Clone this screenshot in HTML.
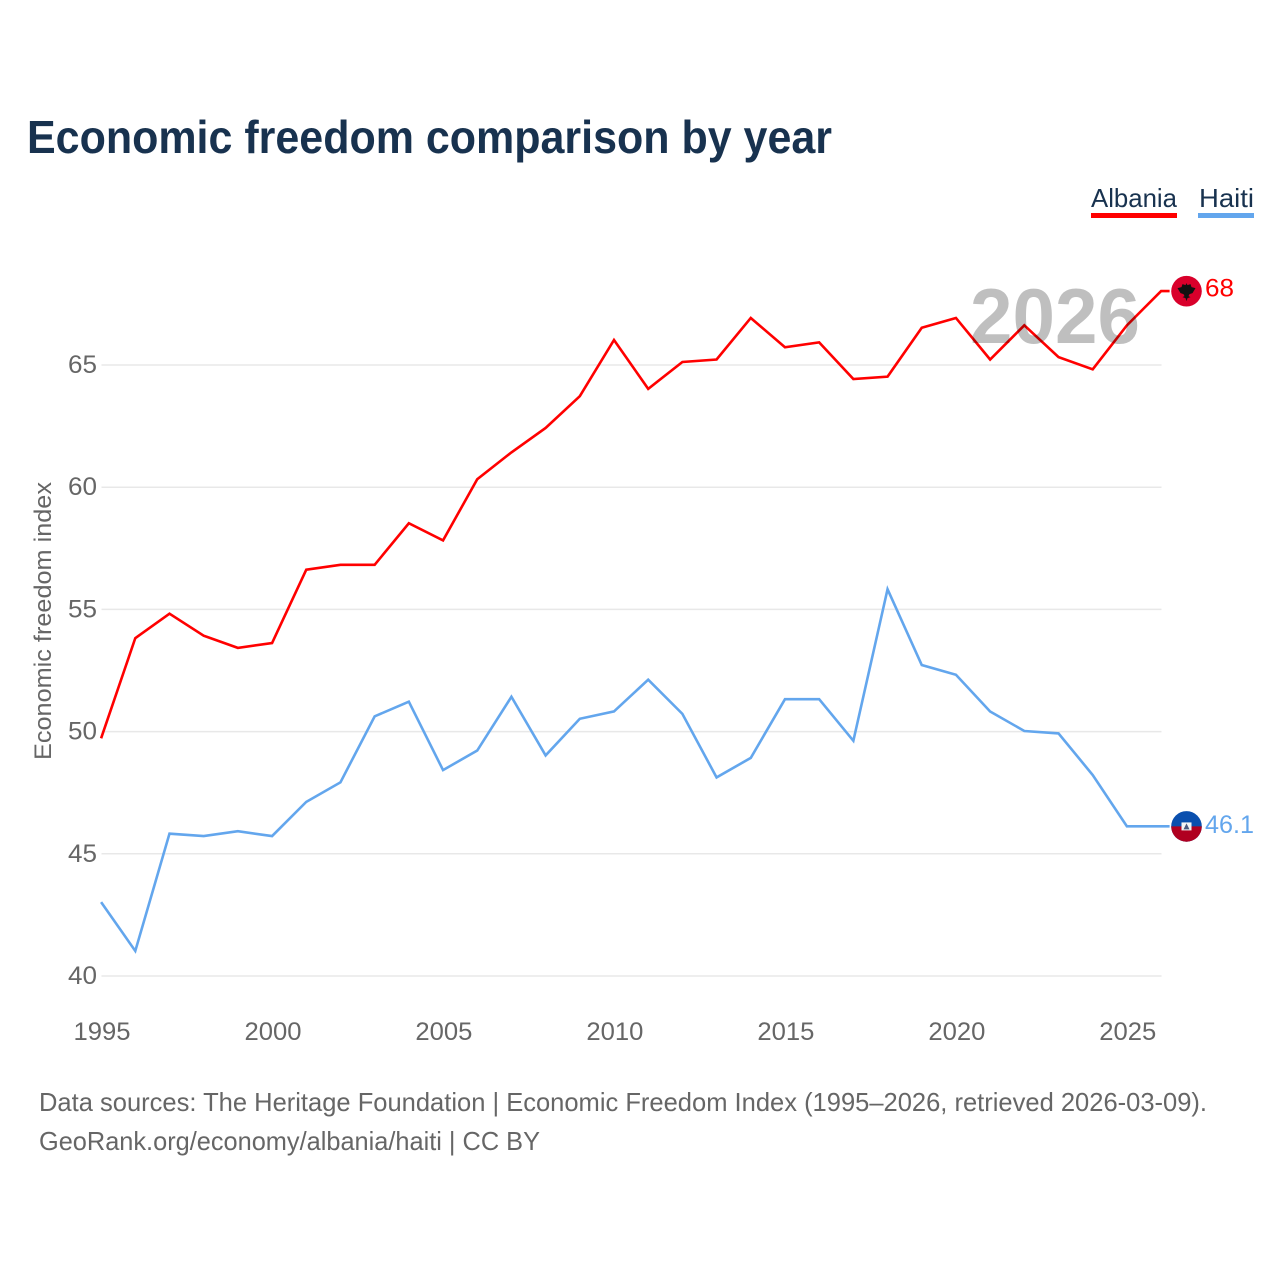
<!DOCTYPE html>
<html lang="en">
<head>
<meta charset="utf-8">
<title>Economic freedom comparison by year</title>
<style>
html,body{margin:0;padding:0;background:#fff;}
svg{display:block;}
text{font-family:"Liberation Sans",sans-serif;}
</style>
</head>
<body>
<svg id="chart" xmlns="http://www.w3.org/2000/svg" width="1280" height="1280" viewBox="0 0 1280 1280">
  <rect x="0" y="0" width="1280" height="1280" fill="#fff"/>
  <text x="27" y="153" font-size="46" font-weight="700" fill="#18324f" textLength="805" lengthAdjust="spacingAndGlyphs">Economic freedom comparison by year</text>

  <g>
    <g>
      <text x="1091" y="207" font-size="26" fill="#18324f" textLength="86" lengthAdjust="spacingAndGlyphs">Albania</text>
      <rect x="1091" y="213" width="86" height="5" fill="#ff0000"/>
    </g>
    <g>
      <text x="1199" y="207" font-size="26" fill="#18324f" textLength="55" lengthAdjust="spacingAndGlyphs">Haiti</text>
      <rect x="1198" y="213" width="56" height="5" fill="#63a6ed"/>
    </g>
  </g>

  <g id="grid"></g>
  <g id="yticks"></g>
  <g id="xticks"></g>
  <text transform="translate(51,621) rotate(-90)" text-anchor="middle" font-size="24" fill="#666666" textLength="278" lengthAdjust="spacingAndGlyphs">Economic freedom index</text>

  <g id="series" transform="translate(-0.4,-0.6)"></g>

  <text x="1055" y="343" text-anchor="middle" font-size="78" font-weight="400" fill="#000000" fill-opacity="0.25" stroke="#000000" stroke-opacity="0" textLength="170" lengthAdjust="spacingAndGlyphs" style="font-weight:700">2026</text>

  <g id="ends"></g>

  <g>
    <text x="39" y="1111" font-size="26" fill="#666666" textLength="1168" lengthAdjust="spacingAndGlyphs">Data sources: The Heritage Foundation | Economic Freedom Index (1995–2026, retrieved 2026-03-09).</text>
    <text x="39" y="1150" font-size="26" fill="#666666" textLength="501" lengthAdjust="spacingAndGlyphs">GeoRank.org/economy/albania/haiti | CC BY</text>
  </g>
</svg>
<script>
const years = [1995,1996,1997,1998,1999,2000,2001,2002,2003,2004,2005,2006,2007,2008,2009,2010,2011,2012,2013,2014,2015,2016,2017,2018,2019,2020,2021,2022,2023,2024,2025,2026];
const albaniaValues = [49.7,53.8,54.8,53.9,53.4,53.6,56.6,56.8,56.8,58.5,57.8,60.3,61.4,62.4,63.7,66.0,64.0,65.1,65.2,66.9,65.7,65.9,64.4,64.5,66.5,66.9,65.2,66.6,65.3,64.8,66.6,68];
const haitiValues = [43.0,41.0,45.8,45.7,45.9,45.7,47.1,47.9,50.6,51.2,48.4,49.2,51.4,49.0,50.5,50.8,52.1,50.7,48.1,48.9,51.3,51.3,49.6,55.8,52.7,52.3,50.8,50.0,49.9,48.2,46.1,46.1];
const yTickValues = [40,45,50,55,60,65];
const xTickValues = [1995,2000,2005,2010,2015,2020,2025];
const albaniaLabel = "68";
const haitiLabel = "46.1";

const NS = "http://www.w3.org/2000/svg";
function xScale(y){ return 101.5 + (y - 1995) * (1161.5 - 101.5) / 31; }
function yScale(v){ return 976 - (v - 40) * (976 - 365) / 25; }
function make(tag, attrs, parent){
  const el = document.createElementNS(NS, tag);
  for (const k in attrs) el.setAttribute(k, attrs[k]);
  parent.appendChild(el);
  return el;
}
const grid = document.getElementById('grid');
const yt = document.getElementById('yticks');
const xt = document.getElementById('xticks');
const series = document.getElementById('series');
const ends = document.getElementById('ends');

yTickValues.forEach(function(v){
  const line = make('line', {x1:101.5, x2:1161.5, y1:yScale(v), y2:yScale(v), stroke:'#e8e8e8', 'stroke-width':1.5}, grid);
  
  
  const t = make('text', {x:97, y:yScale(v)+8, 'text-anchor':'end', 'font-size':25, fill:'#666666', textLength:29, lengthAdjust:'spacingAndGlyphs'}, yt);
  
  
  t.textContent = v;
});
xTickValues.forEach(function(y){
  const t = make('text', {x:xScale(y)+0.5, y:1040, 'text-anchor':'middle', 'font-size':25, fill:'#666666', textLength:57, lengthAdjust:'spacingAndGlyphs'}, xt);
  
  
  t.textContent = y;
});

function drawLine(values, color, name){
  const pts = values.map(function(v,i){ return xScale(years[i]).toFixed(2) + ',' + yScale(v).toFixed(2); });
  const lastY = yScale(values[values.length-1]).toFixed(2);
  pts.push('1170,' + lastY);
  const p = make('polyline', {points:pts.join(' '), fill:'none', stroke:color, 'stroke-width':2.6, 'stroke-linejoin':'miter'}, series);
  
  
}
drawLine(albaniaValues, '#ff0000', 'line-albania');
drawLine(haitiValues, '#63a6ed', 'line-haiti');

/* Albania marker */
const aY = yScale(albaniaValues[albaniaValues.length-1]) - 0.5;
const aG = make('g', {transform:'translate(1186.5,' + aY + ')'}, ends);


make('circle', {cx:0, cy:0, r:15.3, fill:'#d9002b'}, aG);
make('polygon', {points:'-9,-3 -5,-4 -4,-7 -1,-6 0,-8 1,-6 4,-7 5,-4 9,-3 6,2 3,3 2,5 4,6 1,7 0,10 -1,7 -4,6 -2,5 -3,3 -6,2', fill:'#111'}, aG);
const aT = make('text', {x:1205, y:yScale(albaniaValues[albaniaValues.length-1])+5, 'font-size':25, fill:'#ff0000', textLength:29, lengthAdjust:'spacingAndGlyphs'}, ends);


aT.textContent = albaniaLabel;

/* Haiti marker */
const hY = yScale(haitiValues[haitiValues.length-1]) - 0.5;
const hG = make('g', {transform:'translate(1186.5,' + hY + ')'}, ends);


make('circle', {cx:0, cy:0, r:15.3, fill:'#0a4fae'}, hG);
make('path', {d:'M-15.3,0 A15.3,15.3 0 0 0 15.3,0 Z', fill:'#b00020'}, hG);
make('rect', {x:-5, y:-4, width:10, height:8, fill:'#f4f4f4'}, hG);
make('polygon', {points:'0,-3 3,3 -3,3', fill:'#4a5a80'}, hG);
const hT = make('text', {x:1205, y:yScale(haitiValues[haitiValues.length-1])+6, 'font-size':25, fill:'#63a6ed', textLength:49, lengthAdjust:'spacingAndGlyphs'}, ends);


hT.textContent = haitiLabel;
</script>
</body>
</html>
